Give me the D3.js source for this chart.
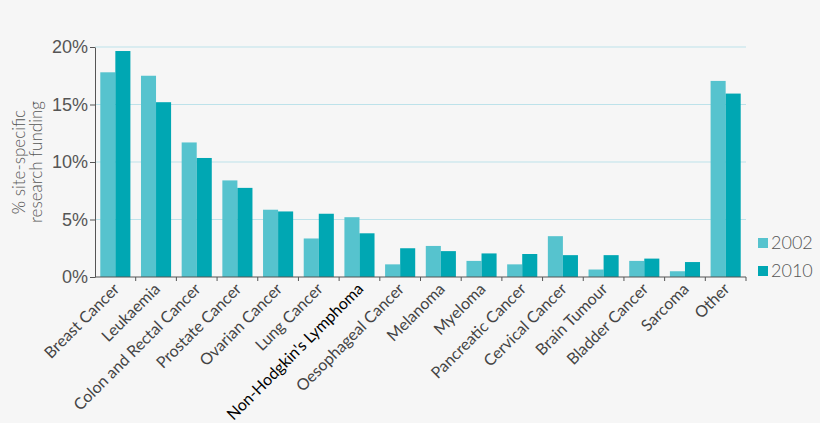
<!DOCTYPE html>
<html>
<head>
<meta charset="utf-8">
<script src="https://cdn.jsdelivr.net/npm/d3@7"></script>
<style>
  html, body { margin: 0; padding: 0; background: #f6f6f6; }
  svg { display: block; font-family: Lato, "Open Sans", sans-serif; }
</style>
</head>
<body>
<div id="content"></div>
<script>
const width = 820;
const height = 423;

const categories = ['Breast Cancer', 'Leukaemia', 'Colon and Rectal Cancer', 'Prostate Cancer',
  'Ovarian Cancer', 'Lung Cancer', "Non-Hodgkin's Lymphoma", 'Oesophageal Cancer', 'Melanoma',
  'Myeloma', 'Pancreatic Cancer', 'Cervical Cancer', 'Brain Tumour', 'Bladder Cancer', 'Sarcoma', 'Other'];
const years = ['2002', '2010'];
const values2002 = [17.8, 17.5, 11.7, 8.4, 5.85, 3.35, 5.2, 1.1, 2.7, 1.4, 1.1, 3.55, 0.65, 1.4, 0.5, 17.05];
const values2010 = [19.65, 15.2, 10.35, 7.75, 5.7, 5.5, 3.8, 2.5, 2.25, 2.05, 2.0, 1.9, 1.9, 1.6, 1.3, 15.95];
const yTicks = [0, 5, 10, 15, 20];

const colors = { '2002': '#56c3ce', '2010': '#00a7b3' };
const textGrey = '#555';
const highlight = "Non-Hodgkin's Lymphoma";

const margin = { top: 47, right: 74, bottom: 146, left: 95 };
const innerW = width - margin.left - margin.right;
const innerH = height - margin.top - margin.bottom;

const svg = d3.select('#content')
  .append('svg')
  .attr('width', width)
  .attr('height', height);

const g = svg.append('g')
  .attr('transform', `translate(${margin.left},${margin.top})`);

const x = d3.scaleBand()
  .domain(categories)
  .range([0, innerW])
  .paddingInner(0.26)
  .paddingOuter(0.13);

const x1 = d3.scaleBand()
  .domain(years)
  .range([0, x.bandwidth()]);

const y = d3.scaleLinear()
  .domain([0, 20])
  .range([innerH, 0]);

// gridlines
g.append('g')
  .selectAll('line')
  .data(yTicks.filter(t => t > 0))
  .join('line')
  .attr('x1', 0)
  .attr('x2', innerW)
  .attr('y1', d => y(d))
  .attr('y2', d => y(d))
  .attr('stroke', '#bde2ea')
  .attr('stroke-width', 1);

// bars
const rows = categories.map((c, i) => ({ cat: c, vals: [
  { year: '2002', v: values2002[i] },
  { year: '2010', v: values2010[i] }
] }));

g.append('g')
  .selectAll('g')
  .data(rows)
  .join('g')
  .attr('transform', d => `translate(${x(d.cat)},0)`)
  .selectAll('rect')
  .data(d => d.vals)
  .join('rect')
  .attr('x', d => x1(d.year))
  .attr('width', x1.bandwidth())
  .attr('y', d => y(d.v))
  .attr('height', d => innerH - y(d.v))
  .attr('fill', d => colors[d.year]);

// y axis
const yAxis = g.append('g')
  .call(d3.axisLeft(y).tickValues(yTicks).tickFormat(d => d + '%').tickSize(5).tickSizeOuter(0));
yAxis.select('.domain').attr('stroke', '#555');
yAxis.selectAll('.tick line').attr('stroke', '#555');
yAxis.selectAll('.tick text')
  .attr('x', -7)
  .attr('fill', textGrey)
  .style('font-size', '18px')
  .style('font-weight', 300);

// x axis with ticks at band boundaries
g.append('line')
  .attr('x1', 0).attr('x2', innerW)
  .attr('y1', innerH).attr('y2', innerH)
  .attr('stroke', '#555');

const step = x.step();
g.append('g')
  .selectAll('line')
  .data(categories)
  .join('line')
  .attr('x1', d => x(d) - x.paddingInner() * step / 2 + step)
  .attr('x2', d => x(d) - x.paddingInner() * step / 2 + step)
  .attr('y1', innerH)
  .attr('y2', innerH + 4)
  .attr('stroke', '#555');

g.append('g')
  .selectAll('text')
  .data(categories)
  .join('text')
  .attr('transform', d => `translate(${x(d) + x.bandwidth() / 2 + 5},${innerH + 13}) rotate(-45)`)
  .attr('text-anchor', 'end')
  .attr('fill', d => d === highlight ? '#000' : '#444')
  .style('font-size', '16px')
  .style('font-weight', 400)
  .text(d => d);

// y axis title
const yTitle = svg.append('text')
  .attr('transform', `translate(25,${margin.top + innerH / 2}) rotate(-90)`)
  .attr('text-anchor', 'middle')
  .attr('fill', textGrey)
  .style('font-size', '17px')
  .style('font-weight', 300);
yTitle.append('tspan').attr('x', 0).attr('dy', 0).text('% site-specific');
yTitle.append('tspan').attr('x', 0).attr('dy', 17).text('research funding');

// legend
const legend = svg.append('g')
  .attr('transform', `translate(758,${margin.top + innerH - 34})`);
const item = legend.selectAll('g')
  .data(years)
  .join('g')
  .attr('transform', (d, i) => `translate(0,${i * 28})`);
item.append('rect')
  .attr('x', 0).attr('y', -5)
  .attr('width', 10).attr('height', 10)
  .attr('fill', d => colors[d]);
item.append('text')
  .attr('x', 13)
  .attr('dy', '0.35em')
  .attr('fill', textGrey)
  .style('font-size', '18px')
  .style('font-weight', 300)
  .text(d => d);
</script>
</body>
</html>
